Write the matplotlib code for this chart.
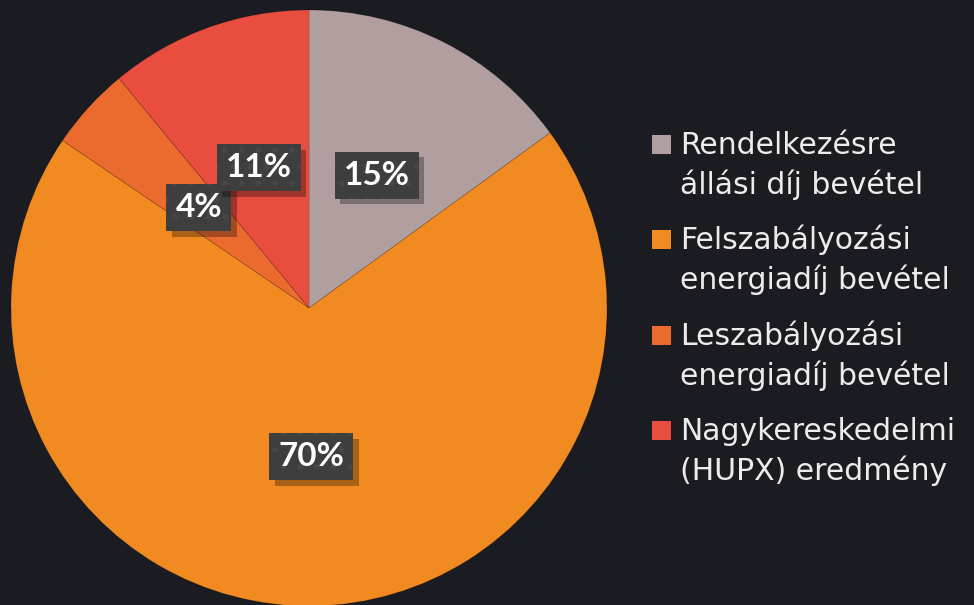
import matplotlib.pyplot as plt
import matplotlib.patheffects as pe
from matplotlib.patches import Rectangle

# data
categories = ['Rendelkezésre\nállási díj bevétel',
              'Felszabályozási\nenergiadíj bevétel',
              'Leszabályozási\nenergiadíj bevétel',
              'Nagykereskedelmi\n(HUPX) eredmény']
shares = [15.0, 69.5, 4.5, 11.0]
colors = ['#b09f9e', '#f28a22', '#eb6b2f', '#e84d3e']

bg = '#1b1b22'
W, H = 974, 605

plt.rcParams['hatch.linewidth'] = 1.6


class FlatShadow(pe.SimplePatchShadow):
    # shadow without the hatch of the box on top
    def draw_path(self, renderer, gc, tpath, affine, rgbFace):
        gc0 = renderer.new_gc()
        gc0.copy_properties(gc)
        gc0.set_hatch(None)
        super().draw_path(renderer, gc0, tpath, affine, rgbFace)
        gc0.restore()


fig = plt.figure(figsize=(W / 100, H / 100), dpi=100, facecolor=bg)

# pie axes placed in pixels: centre (309, 308), radius 298
cx, cy, r = 309, 308, 298
ax = fig.add_axes([(cx - r) / W, (H - cy - r) / H, 2 * r / W, 2 * r / H])
ax.set_facecolor(bg)

wedges, texts, autotexts = ax.pie(
    shares, colors=colors, startangle=90, counterclock=False,
    autopct='%.0f%%', pctdistance=0.5, radius=1,
    wedgeprops=dict(edgecolor=(0, 0, 0, 0.15), linewidth=0.6),
    textprops=dict(color='white', fontsize=24, fontweight='bold', family='Lato'))
ax.set_xlim(-1, 1)
ax.set_ylim(-1, 1)
ax.set_aspect('equal')
ax.axis('off')

for t in autotexts:
    t.set_bbox(dict(boxstyle='square,pad=0.27', fc='#3e3e3e', ec='#474747',
                    lw=0, hatch='.'))
    t.get_bbox_patch().set_path_effects([
        FlatShadow(offset=(4, -4), shadow_rgbFace='black', alpha=0.3),
        pe.Normal()])

# legend drawn by hand in pixel positions
x_sq, x_txt = 652, 680
first_base, step, line_gap = 154, 95.3, 40
for i, (lab, col) in enumerate(zip(categories, colors)):
    base = first_base + i * step
    fig.patches.append(Rectangle((x_sq / W, (H - base) / H), 19 / W, 19 / H,
                                 transform=fig.transFigure, facecolor=col,
                                 edgecolor='none'))
    for j, line in enumerate(lab.split('\n')):
        fig.text(x_txt / W, (H - base - j * line_gap) / H, line,
                 color='#ececec', fontsize=21.5, family='DejaVu Sans',
                 va='baseline', ha='left')

fig.savefig('out.png', dpi=100, facecolor=bg)
